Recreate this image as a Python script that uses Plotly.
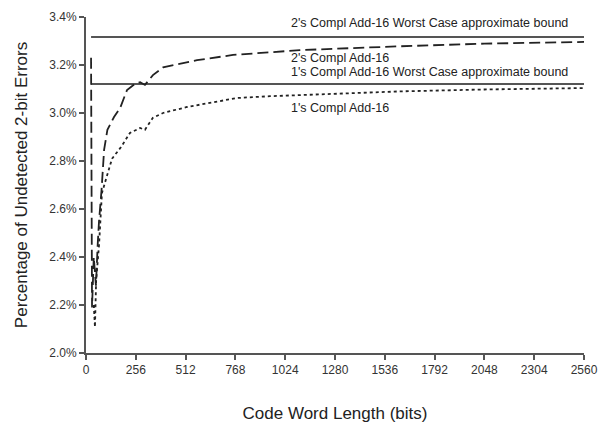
import plotly.graph_objects as go

# Data
twos_x = [26, 31, 40, 51, 60, 67, 80, 93, 110, 144, 175, 211, 257, 278, 303, 344, 396, 519, 571, 756, 1100, 1614, 2048, 2560]
twos_y = [3.23, 2.19, 2.40, 2.28, 2.45, 2.55, 2.68, 2.846, 2.93, 2.983, 3.02, 3.096, 3.125, 3.128, 3.117, 3.158, 3.19, 3.21, 3.22, 3.242, 3.262, 3.278, 3.289, 3.296]

ones_x = [40, 46, 52, 60, 67, 82, 100, 134, 180, 226, 278, 303, 344, 396, 519, 653, 776, 946, 1100, 1614, 2048, 2560]
ones_y = [2.20, 2.108, 2.30, 2.38, 2.45, 2.667, 2.72, 2.81, 2.858, 2.917, 2.9375, 2.93, 2.98, 3.0, 3.025, 3.046, 3.0625, 3.07, 3.075, 3.09, 3.098, 3.104]

bound_x = [26, 2565]
twos_bound = 3.317
ones_bound = 3.121

x_ticks = [0, 256, 512, 768, 1024, 1280, 1536, 1792, 2048, 2304, 2560]
y_ticks = [2.0, 2.2, 2.4, 2.6, 2.8, 3.0, 3.2, 3.4]

labels = [
    ("2's Compl Add-16 Worst Case approximate bound", 3.375),
    ("2's Compl Add-16", 3.231),
    ("1's Compl Add-16 Worst Case approximate bound", 3.169),
    ("1's Compl Add-16", 3.021),
]

line_col = "#222222"
axis_col = "#555555"

fig = go.Figure()
fig.add_trace(go.Scatter(x=bound_x, y=[twos_bound] * 2, mode="lines",
                         line=dict(color=axis_col, width=2), showlegend=False))
fig.add_trace(go.Scatter(x=bound_x, y=[ones_bound] * 2, mode="lines",
                         line=dict(color=axis_col, width=2), showlegend=False))
fig.add_trace(go.Scatter(x=twos_x, y=twos_y, mode="lines",
                         line=dict(color=line_col, width=1.8, dash="11px,5px"), showlegend=False))
fig.add_trace(go.Scatter(x=ones_x, y=ones_y, mode="lines",
                         line=dict(color=line_col, width=1.8, dash="3px,3px"), showlegend=False))

for txt, yv in labels:
    fig.add_annotation(x=1050, y=yv, text=txt, showarrow=False, xanchor="left",
                       yanchor="middle", borderpad=0,
                       font=dict(family="Liberation Sans, Arial", size=12.5, color="#222"))

# page body has an 8px margin, so the figure is sized/placed to compensate
fig.update_layout(
    width=600, height=421,
    margin=dict(l=78, r=24, t=9, b=76),
    paper_bgcolor="white", plot_bgcolor="white",
    font=dict(family="Liberation Sans, Arial", size=12, color="#333"),
)
fig.update_xaxes(range=[0, 2560], tickvals=x_ticks, ticktext=[str(v) for v in x_ticks],
                 showgrid=False, zeroline=False, showline=True, linecolor=axis_col, linewidth=2,
                 ticks="outside", ticklen=5, tickcolor=axis_col, tickwidth=1.5, automargin=False,
                 title=dict(text="Code Word Length (bits)", font=dict(size=17, color="#222"), standoff=31))
fig.update_yaxes(range=[2.0, 3.4], tickvals=y_ticks, ticktext=[f"{v:.1f}%" for v in y_ticks],
                 showgrid=False, zeroline=False, showline=True, linecolor=axis_col, linewidth=2,
                 ticks="outside", ticklen=5, tickcolor=axis_col, tickwidth=1.5, automargin=False,
                 title=dict(text="Percentage of Undetected 2-bit Errors", font=dict(size=17, color="#222"), standoff=17))

fig.write_html("out.html")
